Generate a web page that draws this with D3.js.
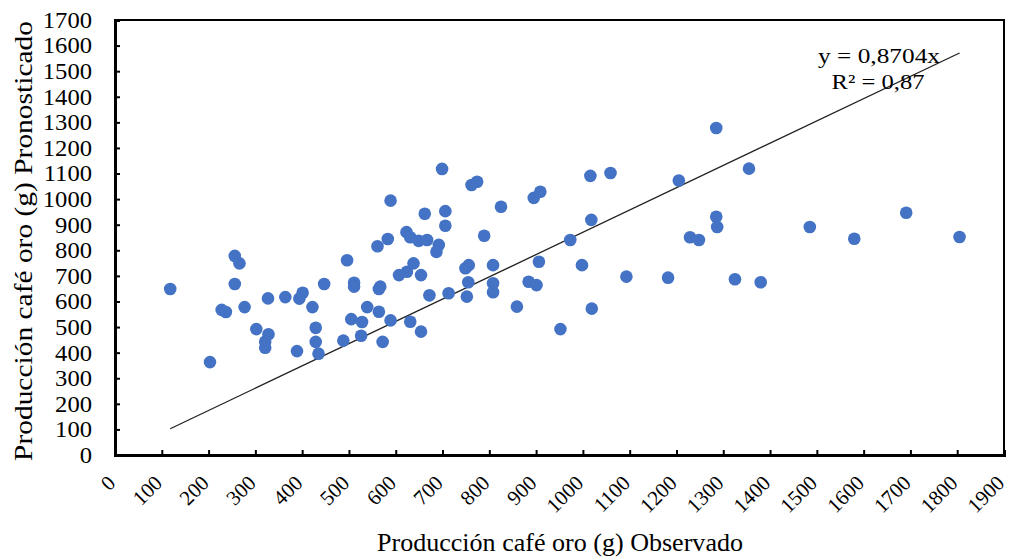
<!DOCTYPE html>
<html>
<head>
<meta charset="utf-8">
<script src="https://cdn.jsdelivr.net/npm/d3@7"></script>
<style>
  html, body { margin: 0; padding: 0; background: #fff; }
  svg text { font-family: "Liberation Serif", "Times New Roman", serif; fill: #000; }
</style>
</head>
<body>
<svg id="chart" width="1011" height="557"></svg>
<script>
// Observed vs forecast gold-coffee production (g)
const observado = [
  118, 203, 228, 237, 256, 266, 256, 277, 302, 328, 321, 321, 327, 364, 394, 401,
  389, 422, 429, 429, 435, 447, 496, 511, 511, 488, 505, 528, 526, 539, 561, 583,
  589, 564, 564, 567, 572, 589, 607, 624,
  699, 762, 774, 662, 706, 706, 825, 623, 631, 649, 667, 789, 895, 909, 1016, 1059,
  1205, 1018, 973, 692, 687, 638, 654, 749, 756, 808, 906, 998, 755, 808, 808, 884,
  901, 672, 713, 752, 1093, 1182, 859, 1019, 631, 654, 952, 1229, 1248,
  1285, 1355, 1285, 1287, 1325, 1380, 1485, 1580, 1691, 1805
];
const pronosticado = [
  649, 363, 567, 559, 778, 749, 668, 578, 492, 472, 443, 419, 612, 617, 611, 634,
  406, 578, 497, 442, 396, 668, 761, 673, 658, 447, 531, 520, 466, 578, 816, 844,
  994, 560, 649, 658, 442, 526, 703, 716,
  1118, 1055, 1068, 943, 953, 896, 970, 871, 851, 837, 840, 857, 1005, 1029, 1091, 1102,
  1073, 919, 840, 821, 794, 749, 703, 730, 742, 742, 755, 742, 675, 671, 636, 677,
  664, 624, 632, 619, 697, 693, 580, 572, 521, 482, 492, 851, 840,
  1278, 1119, 931, 891, 687, 675, 891, 845, 947, 852
];
const xTicks = d3.range(0, 1901, 100);
const yTicks = d3.range(0, 1701, 100);
const slope = 0.8704;
const ecuacion = "y = 0,8704x";
const r2Texto = "R² = 0,87";
const tituloX = "Producción café oro (g) Observado";
const tituloY = "Producción café oro (g) Pronosticado";

const points = observado.map((v, i) => ({ x: v, y: pronosticado[i] }));

const svg = d3.select("#chart");
const plotLeft = 115, plotRight = 1004, plotTop = 20, plotBottom = 455;

const x = d3.scaleLinear().domain([0, 1900]).range([plotLeft, plotRight]);
const y = d3.scaleLinear().domain([0, 1700]).range([plotBottom, plotTop]);

// widen serif glyphs slightly so the type reads a little broad
function widen(sel, k) {
  sel.each(function () {
    const len = this.getComputedTextLength();
    d3.select(this).attr("textLength", len * k).attr("lengthAdjust", "spacingAndGlyphs");
  });
}

// plot frame
svg.append("rect")
  .attr("x", plotLeft).attr("y", plotTop)
  .attr("width", plotRight - plotLeft).attr("height", plotBottom - plotTop)
  .attr("fill", "none").attr("stroke", "#000").attr("stroke-width", 2);

// y axis
const gy = svg.append("g")
  .attr("transform", `translate(${plotLeft},0)`)
  .call(d3.axisLeft(y).tickValues(yTicks).tickSize(-5).tickPadding(23).tickFormat(d3.format("d")));
gy.select(".domain").attr("stroke-width", 3);
gy.selectAll(".tick line").attr("stroke-width", 2);
gy.selectAll(".tick text").style("font-size", "23px").style("font-family", "'Liberation Serif', serif");
widen(gy.selectAll(".tick text"), 1.07);

// x axis
const gx = svg.append("g")
  .attr("transform", `translate(0,${plotBottom})`)
  .call(d3.axisBottom(x).tickValues(xTicks).tickSize(-5).tickFormat(d3.format("d")));
gx.select(".domain").attr("stroke-width", 3);
gx.selectAll(".tick line").attr("stroke-width", 2);
gx.selectAll(".tick text")
  .style("font-size", "21px").style("font-family", "'Liberation Serif', serif")
  .attr("text-anchor", "end")
  .attr("y", null)
  .attr("transform", "translate(-4,24) rotate(-45)")
  .attr("dy", "0.35em");

// trend line through the origin over the observed range
const xr = d3.extent(observado);
svg.append("line")
  .attr("x1", x(xr[0])).attr("y1", y(slope * xr[0]))
  .attr("x2", x(xr[1])).attr("y2", y(slope * xr[1]))
  .attr("stroke", "#222").attr("stroke-width", 1.3);

// points
svg.append("g").selectAll("circle").data(points).join("circle")
  .attr("cx", d => x(d.x)).attr("cy", d => y(d.y))
  .attr("r", 6.3).attr("fill", "#4472C4");

// equation labels
svg.append("text").attr("x", 879).attr("y", 63).attr("text-anchor", "middle")
  .attr("font-size", 22).attr("textLength", 122).attr("lengthAdjust", "spacingAndGlyphs")
  .text(ecuacion);
svg.append("text").attr("x", 878).attr("y", 89).attr("text-anchor", "middle")
  .attr("font-size", 22).attr("textLength", 93).attr("lengthAdjust", "spacingAndGlyphs")
  .text(r2Texto);

// axis titles
svg.append("text").attr("x", 560).attr("y", 551).attr("text-anchor", "middle")
  .attr("font-size", 25).attr("textLength", 366).attr("lengthAdjust", "spacingAndGlyphs")
  .text(tituloX);
svg.append("text").attr("transform", "translate(32,241) rotate(-90)")
  .attr("text-anchor", "middle").attr("font-size", 26)
  .attr("textLength", 440).attr("lengthAdjust", "spacingAndGlyphs")
  .text(tituloY);
</script>
</body>
</html>
